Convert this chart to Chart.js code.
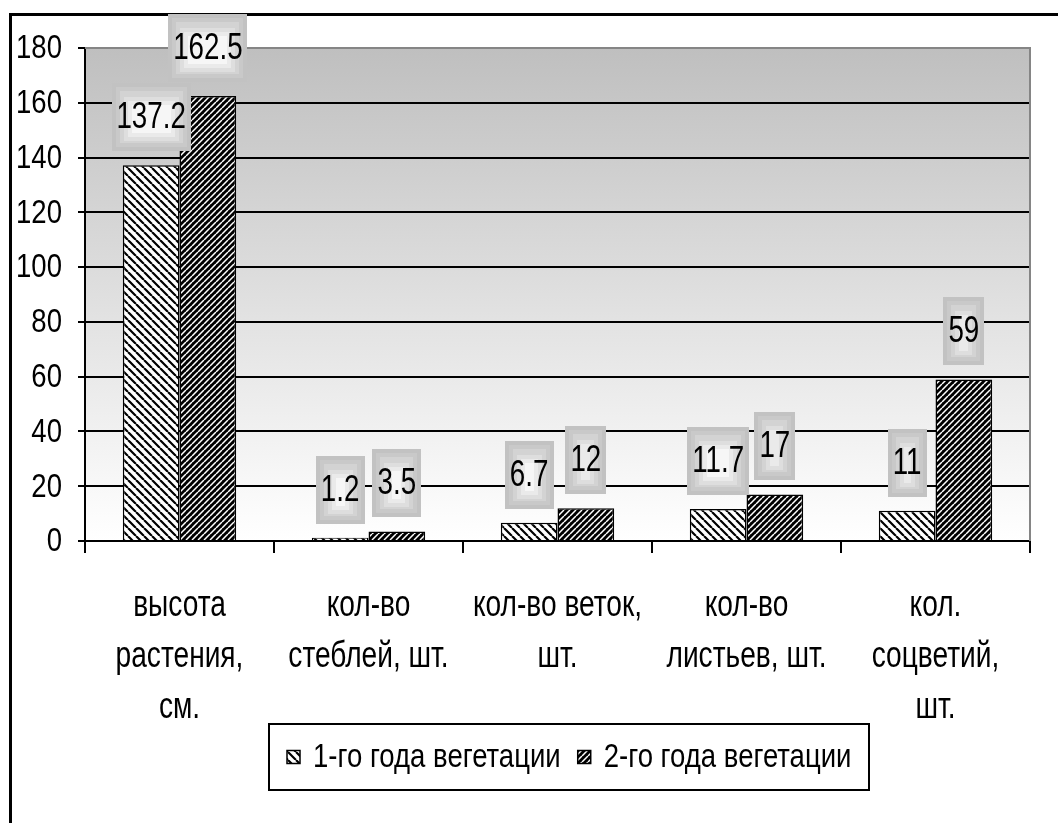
<!DOCTYPE html>
<html>
<head>
<meta charset="utf-8">
<script src="https://cdn.jsdelivr.net/npm/chart.js@4.4.0/dist/chart.umd.min.js"></script>
<style>
html, body { margin: 0; padding: 0; background: #fff; }
#wrap { width: 1058px; height: 823px; }
</style>
</head>
<body>
<div id="wrap"><canvas id="chart" width="1058" height="823"></canvas></div>
<script>
const categories = [
    ['высота', 'растения,', 'см.'],
    ['кол-во', 'стеблей, шт.'],
    ['кол-во веток,', 'шт.'],
    ['кол-во', 'листьев, шт.'],
    ['кол.', 'соцветий,', 'шт.']
];
const seriesNames = ['1-го года вегетации', '2-го года вегетации'];
const firstYear = [137.2, 1.2, 6.7, 11.7, 11];
const secondYear = [162.5, 3.5, 12, 17, 59];
const yMin = 0;
const yMax = 180;
const yStep = 20;

// no narrow font installed, so Liberation Sans gets squeezed sideways
const FONT = '"Liberation Sans", Arial, sans-serif';
const SQUEEZE = 0.81;

function narrowText(c, text, x, y, align, sx) {
    c.save();
    c.translate(x, y);
    c.scale(sx, 1);
    c.textAlign = align;
    c.fillText(text, 0, 0);
    c.restore();
}

// hatch fill: light bars "\" black on white, dark bars "/" white on black
function makeHatch(bg, fg, dir, size, lw) {
    const c = document.createElement('canvas');
    c.width = size;
    c.height = size;
    const g = c.getContext('2d');
    g.fillStyle = bg;
    g.fillRect(0, 0, size, size);
    g.strokeStyle = fg;
    g.lineWidth = lw;
    g.beginPath();
    for (let k = -size; k <= size; k += size) {
        if (dir === 'back') {
            g.moveTo(k, 0);
            g.lineTo(k + size, size);
        } else {
            g.moveTo(k, size);
            g.lineTo(k + size, 0);
        }
    }
    g.stroke();
    return g.createPattern(c, 'repeat');
}

const ctx = document.getElementById('chart').getContext('2d');
const lightHatch = makeHatch('#ffffff', '#000000', 'back', 8, 2.2);
const darkHatch = makeHatch('#000000', '#ffffff', 'fwd', 6, 1.5);

const frameAndBackground = {
    id: 'frameAndBackground',
    beforeDraw(chart) {
        const c = chart.ctx;
        const a = chart.chartArea;
        c.save();
        c.fillStyle = '#fff';
        c.fillRect(0, 0, chart.width, chart.height);
        c.strokeStyle = '#000';
        c.lineWidth = 3;
        c.strokeRect(10.5, 14.5, chart.width + 20, chart.height + 20);
        const grad = c.createLinearGradient(0, a.top, 0, a.bottom);
        grad.addColorStop(0, '#bfbfbf');
        grad.addColorStop(1, '#ffffff');
        c.fillStyle = grad;
        c.fillRect(a.left, a.top, a.right - a.left, a.bottom - a.top);
        c.restore();
    },
    beforeDatasetsDraw(chart) {
        const c = chart.ctx;
        const a = chart.chartArea;
        c.save();
        c.strokeStyle = '#858585';
        c.lineWidth = 2;
        c.beginPath();
        c.moveTo(a.left, a.top);
        c.lineTo(a.right, a.top);
        c.lineTo(a.right, a.bottom);
        c.stroke();
        c.restore();
    }
};

const axisText = {
    id: 'axisText',
    afterDraw(chart) {
        const c = chart.ctx;
        const xs = chart.scales.x;
        const ys = chart.scales.y;
        c.save();
        c.fillStyle = '#000';
        c.font = '34px ' + FONT;
        c.textBaseline = 'middle';
        ys.ticks.forEach(t => {
            narrowText(c, String(t.value), 62, ys.getPixelForValue(t.value) + 1, 'right', SQUEEZE);
        });
        c.font = '37px ' + FONT;
        const lineH = 51;
        const firstY = xs.top + 12 + 27 + lineH / 2;
        categories.forEach((lines, i) => {
            const x = xs.getPixelForTick(i);
            lines.forEach((ln, k) => {
                narrowText(c, ln, x, firstY + k * lineH, 'center', 0.76);
            });
        });
        c.restore();
    }
};

const valueBoxes = {
    id: 'valueBoxes',
    afterDatasetsDraw(chart) {
        const c = chart.ctx;
        c.save();
        c.font = '37px ' + FONT;
        c.textBaseline = 'middle';
        const sx = 0.75;
        chart.data.datasets.forEach((ds, di) => {
            chart.getDatasetMeta(di).data.forEach((bar, i) => {
                const text = String(ds.data[i]);
                const w = Math.round(c.measureText(text).width * sx) + 10;
                const h = 68;
                const x = Math.round(bar.x - w / 2);
                const y = Math.round(bar.y - 14 - h);
                const shades = ['#c2c2c2', '#c9c9c9', '#d3d3d3', '#dedede', '#eaeaea', '#f6f6f6'];
                shades.forEach((col, k) => {
                    const ins = k * 4;
                    if (w - 2 * ins < 4 || h - 2 * ins < 4) return;
                    c.fillStyle = col;
                    c.fillRect(x + ins, y + ins + (k > 2 ? 2 : 0), w - 2 * ins, h - 2 * ins);
                });
                c.fillStyle = '#000';
                narrowText(c, text, bar.x, y + h / 2 + 1, 'center', sx);
            });
        });
        c.restore();
    }
};

const boxLegend = {
    id: 'boxLegend',
    afterDraw(chart) {
        const c = chart.ctx;
        c.save();
        c.font = '34px ' + FONT;
        c.textBaseline = 'middle';
        const icon = 13, gapIcon = 13, gapItem = 17, padX = 18;
        const fills = [lightHatch, darkHatch];
        const widths = seriesNames.map(s => c.measureText(s).width * SQUEEZE);
        let total = 0;
        widths.forEach((tw, i) => { total += icon + gapIcon + tw + (i ? gapItem : 0); });
        const boxW = Math.round(total + 2 * padX);
        const boxL = Math.round(569 - boxW / 2);
        const boxT = 724, boxH = 66;
        c.strokeStyle = '#000';
        c.lineWidth = 2;
        c.strokeRect(boxL, boxT, boxW, boxH);
        let x = boxL + padX;
        const cy = boxT + boxH / 2;
        seriesNames.forEach((s, i) => {
            if (i) x += gapItem;
            c.fillStyle = fills[i];
            c.fillRect(x, cy - icon / 2, icon, icon);
            c.lineWidth = 1.5;
            c.strokeRect(x, cy - icon / 2, icon, icon);
            x += icon + gapIcon;
            c.fillStyle = '#000';
            narrowText(c, s, x, cy + 1, 'left', SQUEEZE);
            x += widths[i];
        });
        c.restore();
    }
};

new Chart(ctx, {
    type: 'bar',
    data: {
        labels: categories,
        datasets: [{
            label: seriesNames[0],
            data: firstYear,
            backgroundColor: lightHatch,
            borderColor: '#000',
            borderWidth: 1.5
        }, {
            label: seriesNames[1],
            data: secondYear,
            backgroundColor: darkHatch,
            borderColor: '#000',
            borderWidth: 1.5
        }]
    },
    options: {
        responsive: false,
        animation: false,
        devicePixelRatio: 1,
        layout: {
            padding: { left: 0, top: 48, right: 28, bottom: 99 }
        },
        datasets: {
            bar: { categoryPercentage: 0.6, barPercentage: 1 }
        },
        plugins: {
            legend: { display: false },
            tooltip: { enabled: false }
        },
        scales: {
            x: {
                afterFit: s => { s.height = 183; },
                grid: {
                    offset: true,
                    drawOnChartArea: false,
                    color: '#000',
                    lineWidth: 2,
                    tickLength: 12
                },
                border: { color: '#000', width: 2 },
                ticks: {
                    color: 'rgba(0,0,0,0)',
                    padding: 27,
                    maxRotation: 0,
                    autoSkip: false,
                    font: { family: FONT, size: 34, lineHeight: 1.5 }
                }
            },
            y: {
                min: yMin,
                max: yMax,
                afterFit: s => { s.width = 85; },
                grid: {
                    color: c => (c.tick && c.tick.value === yMax ? '#858585' : '#000'),
                    lineWidth: 2,
                    tickLength: 7,
                    tickColor: '#000'
                },
                border: { color: '#000', width: 2 },
                ticks: {
                    stepSize: yStep,
                    color: 'rgba(0,0,0,0)',
                    padding: 16,
                    font: { family: FONT, size: 34 }
                }
            }
        }
    },
    plugins: [frameAndBackground, axisText, valueBoxes, boxLegend]
});
</script>
</body>
</html>
